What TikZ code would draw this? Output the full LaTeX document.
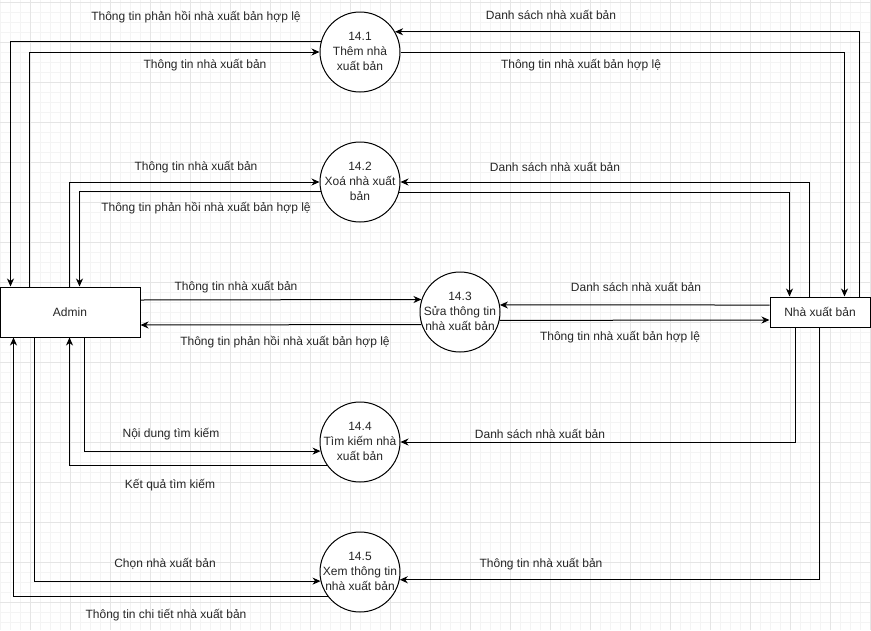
\documentclass[tikz,border=0pt]{standalone}
\usepackage{fontspec}
\setmainfont{Liberation Sans}
\usetikzlibrary{arrows.meta}

% three-line caption set inside a process bubble without widening it
\newcommand\bubbletext[1]{\makebox[0pt]{\begin{tabular}{@{}c@{}}#1\end{tabular}}}

\tikzset{
  every node/.style={font=\fontsize{12}{15}\selectfont, text=black!85},
  entity/.style={draw, line width=1pt, rectangle, inner sep=0pt, fill=white},
  proc/.style={draw, line width=1pt, circle, minimum size=80pt, inner sep=0pt, fill=white},
  flow/.style={line width=1pt, -{Stealth[length=8pt,width=7pt,inset=2.5pt]}},
  lbl/.style={inner sep=0pt},
  minorgrid/.style={line width=1pt, gray!9},
  majorgrid/.style={line width=1pt, gray!20},
}

\begin{document}
\begin{tikzpicture}[x=1pt, y=-1pt]
  \useasboundingbox (0,0) rectangle (871,630);
  \fill[white] (0,0) rectangle (871,630);

  % background grid
  \foreach \gx in {0.5,10.5,...,870.5} \draw[minorgrid] (\gx,0) -- (\gx,630);
  \foreach \gy in {2.5,12.5,...,630} \draw[minorgrid] (0,\gy) -- (871,\gy);
  \foreach \gx in {30.5,70.5,...,870.5} \draw[majorgrid] (\gx,0) -- (\gx,630);
  \foreach \gy in {2.5,42.5,...,630} \draw[majorgrid] (0,\gy) -- (871,\gy);

  % external entities
  \node[entity, minimum width=140pt, minimum height=50pt] (admin) at (70,312) {Admin};
  \node[entity, minimum width=100pt, minimum height=30pt] (nxb) at (820,312) {Nhà xuất bản};

  % processes
  \node[proc] (c1) at (360,52)  {\bubbletext{14.1\\Thêm nhà\\xuất bản}};
  \node[proc] (c2) at (360,182) {\bubbletext{14.2\\Xoá nhà xuất\\bản}};
  \node[proc] (c3) at (460,312) {\bubbletext{14.3\\Sửa thông tin\\nhà xuất bản}};
  \node[proc] (c4) at (360,442) {\bubbletext{14.4\\Tìm kiếm nhà\\xuất bản}};
  \node[proc] (c5) at (360,572) {\bubbletext{14.5\\Xem thông tin\\nhà xuất bản}};

  % 14.1 flows
  \draw[flow] (c1.165.5) -| ([xshift=11pt]admin.north west);
  \draw[flow] ([xshift=30pt]admin.north west) |- (c1.west);
  \draw[flow] ([xshift=90pt]nxb.north west) |- (c1.30);
  \draw[flow] (c1.east) -| ([xshift=75pt]nxb.north west);

  % 14.2 flows
  \draw[flow] ([xshift=70pt]admin.north west) |- (c2.west);
  \draw[flow] (c2.194.5) -| ([xshift=80pt]admin.north west);
  \draw[flow] ([xshift=40pt]nxb.north west) |- (c2.east);
  \draw[flow] (c2.345.5) -| ([xshift=20pt]nxb.north west);

  % 14.3 flows
  \draw[flow] ([yshift=12pt]admin.east) -- (c3.162.54);
  \draw[flow] (c3.198.97) -- ([yshift=-13pt]admin.east);
  \draw[flow] ([yshift=7pt]nxb.west) -- (c3.10.08);
  \draw[flow] (c3.348.46) -- ([yshift=-8pt]nxb.west);

  % 14.4 flows
  \draw[flow] ([xshift=85pt]admin.south west) |- (c4.193);
  \draw[flow] (c4.215.1) -| ([xshift=70pt]admin.south west);
  \draw[flow] ([xshift=26pt]nxb.south west) |- (c4.east);

  % 14.5 flows
  \draw[flow] ([xshift=35pt]admin.south west) |- (c5.193);
  \draw[flow] (c5.218.7) -| ([xshift=14pt]admin.south west);
  \draw[flow] ([xshift=50pt]nxb.south west) |- (c5.349.9);

  % flow labels
  \node[lbl] (l1)  at (196,17)  {Thông tin phản hồi nhà xuất bản hợp lệ};
  \node[lbl] (l2)  at (205,65)  {Thông tin nhà xuất bản};
  \node[lbl] (l3)  at (551,15)  {Danh sách nhà xuất bản};
  \node[lbl] (l4)  at (581,65)  {Thông tin nhà xuất bản hợp lệ};
  \node[lbl] (l5)  at (196,167) {Thông tin nhà xuất bản};
  \node[lbl] (l6)  at (206,208) {Thông tin phản hồi nhà xuất bản hợp lệ};
  \node[lbl] (l7)  at (555,167) {Danh sách nhà xuất bản};
  \node[lbl] (l8)  at (236,287) {Thông tin nhà xuất bản};
  \node[lbl] (l9)  at (285,342) {Thông tin phản hồi nhà xuất bản hợp lệ};
  \node[lbl] (l10) at (636,287) {Danh sách nhà xuất bản};
  \node[lbl] (l11) at (620,337) {Thông tin nhà xuất bản hợp lệ};
  \node[lbl] (l12) at (171,434) {Nội dung tìm kiếm};
  \node[lbl] (l13) at (170,485) {Kết quả tìm kiếm};
  \node[lbl] (l14) at (540,434) {Danh sách nhà xuất bản};
  \node[lbl] (l15) at (541,564) {Thông tin nhà xuất bản};
  \node[lbl] (l16) at (165,564) {Chọn nhà xuất bản};
  \node[lbl] (l17) at (166,615) {Thông tin chi tiết nhà xuất bản};
\end{tikzpicture}
\end{document}
